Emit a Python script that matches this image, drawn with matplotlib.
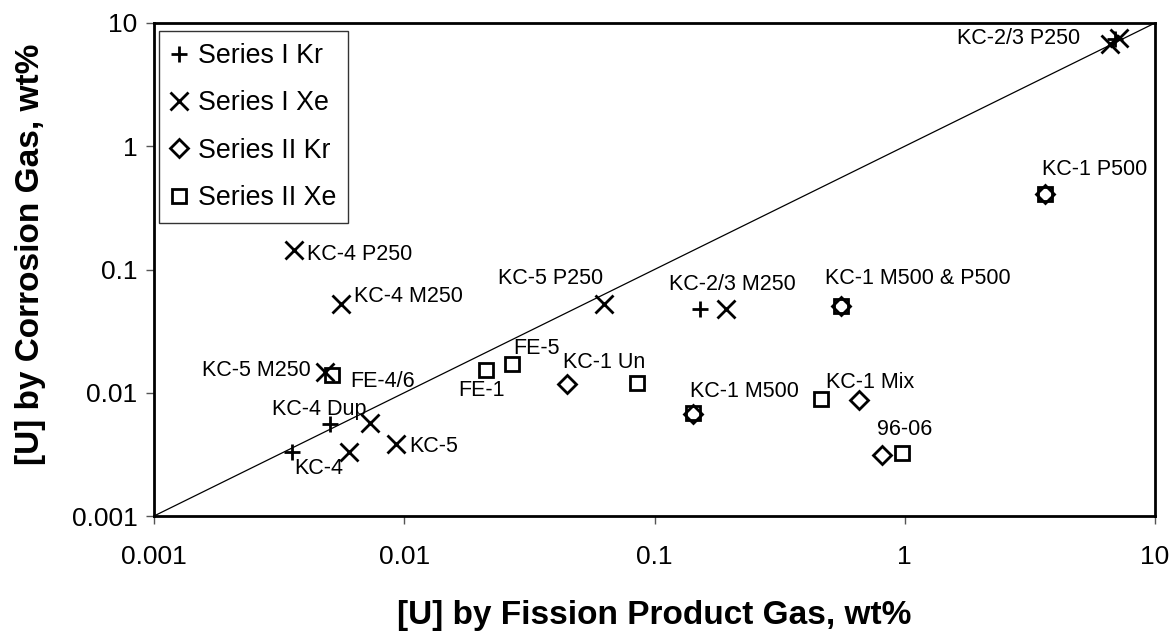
import matplotlib
matplotlib.use("Agg")
import matplotlib.pyplot as plt

plt.rcParams['font.family'] = ['Liberation Sans', 'DejaVu Sans']

# [U] by fission product gas (x) vs. [U] by corrosion gas (y), wt%
s1_kr_x = [0.00355, 0.00505, 0.152, 6.9]
s1_kr_y = [0.0033, 0.00557, 0.0478, 7.4]

s1_xe_x = [0.00362, 0.00558, 0.00482, 0.00729, 0.00601, 0.00927, 0.0628, 0.193, 6.6, 7.2]
s1_xe_y = [0.144, 0.0525, 0.0147, 0.00569, 0.0033, 0.00384, 0.0525, 0.0478, 6.8, 7.5]

s2_kr_x = [0.0447, 0.1425, 0.556, 0.656, 0.811, 3.63]
s2_kr_y = [0.0118, 0.0067, 0.0506, 0.0087, 0.00313, 0.41]

s2_xe_x = [0.00514, 0.0212, 0.027, 0.0851, 0.1425, 0.556, 0.462, 0.975, 3.63]
s2_xe_y = [0.0139, 0.0153, 0.0171, 0.012, 0.0068, 0.0506, 0.0089, 0.00324, 0.41]

series_names = ['Series I Kr', 'Series I Xe', 'Series II Kr', 'Series II Xe']

# sample labels: text, anchor point, offset in pixels, alignment
sample_labels = [
    ('KC-4 P250',        (s1_xe_x[0], s1_xe_y[0]), (13, -5), 'left'),
    ('KC-4 M250',        (s1_xe_x[1], s1_xe_y[1]), (13, 7), 'left'),
    ('KC-5 M250',        (s1_xe_x[2], s1_xe_y[2]), (-14, 2), 'right'),
    ('KC-4 Dup',         (s1_kr_x[1], s1_kr_y[1]), (-58, 15), 'left'),
    ('KC-4',             (s1_kr_x[0], s1_kr_y[0]), (3, -16), 'left'),
    ('KC-5',             (s1_xe_x[5], s1_xe_y[5]), (13, -3), 'left'),
    ('KC-5 P250',        (s1_xe_x[6], s1_xe_y[6]), (-1, 25), 'right'),
    ('KC-2/3 M250',      (s1_kr_x[2], s1_kr_y[2]), (-31, 25), 'left'),
    ('KC-2/3 P250',      (s1_kr_x[3], s1_kr_y[3]), (-35, 1), 'right'),
    ('FE-4/6',           (s2_xe_x[0], s2_xe_y[0]), (18, -6), 'left'),
    ('FE-1',             (s2_xe_x[1], s2_xe_y[1]), (-28, -21), 'left'),
    ('FE-5',             (s2_xe_x[2], s2_xe_y[2]), (1, 16), 'left'),
    ('KC-1 Un',          (s2_kr_x[0], s2_kr_y[0]), (-4, 21), 'left'),
    ('KC-1 M500',        (s2_kr_x[1], s2_kr_y[1]), (-3, 23), 'left'),
    ('KC-1 M500 & P500', (s2_kr_x[2], s2_kr_y[2]), (-16, 27), 'left'),
    ('KC-1 Mix',         (s2_kr_x[3], s2_kr_y[3]), (-33, 18), 'left'),
    ('96-06',            (s2_kr_x[4], s2_kr_y[4]), (-5, 25), 'left'),
    ('KC-1 P500',        (s2_kr_x[5], s2_kr_y[5]), (-3, 24), 'left'),
]

fig = plt.figure(figsize=(11.75, 6.32), dpi=100)
ax = fig.add_axes([154 / 1175, 1 - 516 / 632, 1001 / 1175, 493 / 632])

# 1:1 line
ax.plot([0.001, 10], [0.001, 10], color='black', lw=0.9, zorder=1)

mk = dict(linestyle='none', color='black', markerfacecolor='none', zorder=3)
ax.plot(s1_kr_x, s1_kr_y, marker='+', markersize=12, markeredgewidth=2, label=series_names[0], **mk)
ax.plot(s1_xe_x, s1_xe_y, marker='x', markersize=12.5, markeredgewidth=2, label=series_names[1], **mk)
ax.plot(s2_kr_x, s2_kr_y, marker='D', markersize=9, markeredgewidth=2, label=series_names[2], **mk)
ax.plot(s2_xe_x, s2_xe_y, marker='s', markersize=10, markeredgewidth=2, label=series_names[3], **mk)

for text, (px, py), (dx, dy), ha in sample_labels:
    ax.annotate(text, (px, py), xytext=(dx * 0.72, dy * 0.72), textcoords='offset points',
                ha=ha, va='center', fontsize=15.5, color='black', zorder=4)

ax.set_xscale('log')
ax.set_yscale('log')
ax.set_xlim(0.001, 10)
ax.set_ylim(0.001, 10)
ticks = [0.001, 0.01, 0.1, 1, 10]
tick_labels = ['0.001', '0.01', '0.1', '1', '10']
ax.set_xticks(ticks)
ax.set_xticklabels(tick_labels)
ax.set_yticks(ticks)
ax.set_yticklabels(tick_labels)
ax.minorticks_off()
ax.tick_params(axis='both', which='major', direction='out', length=6, width=1,
               color='#555555', labelsize=19)
ax.tick_params(axis='x', pad=15)
ax.tick_params(axis='y', pad=6)
for sp in ax.spines.values():
    sp.set_linewidth(2)

ax.set_xlabel('[U] by Fission Product Gas, wt%', fontsize=24, fontweight='bold', labelpad=22)
ax.set_ylabel('[U] by Corrosion Gas, wt%', fontsize=24, fontweight='bold')
ax.yaxis.set_label_coords(-0.108, 0.53)

leg = ax.legend(loc='upper left', bbox_to_anchor=(0.005, 0.984), borderaxespad=0,
                fontsize=19.3, frameon=True, fancybox=False, handlelength=0.6,
                handletextpad=0.4, labelspacing=0.8, borderpad=0.45)
leg.get_frame().set_edgecolor('black')
leg.get_frame().set_linewidth(1)

fig.savefig('out.png', dpi=100)
